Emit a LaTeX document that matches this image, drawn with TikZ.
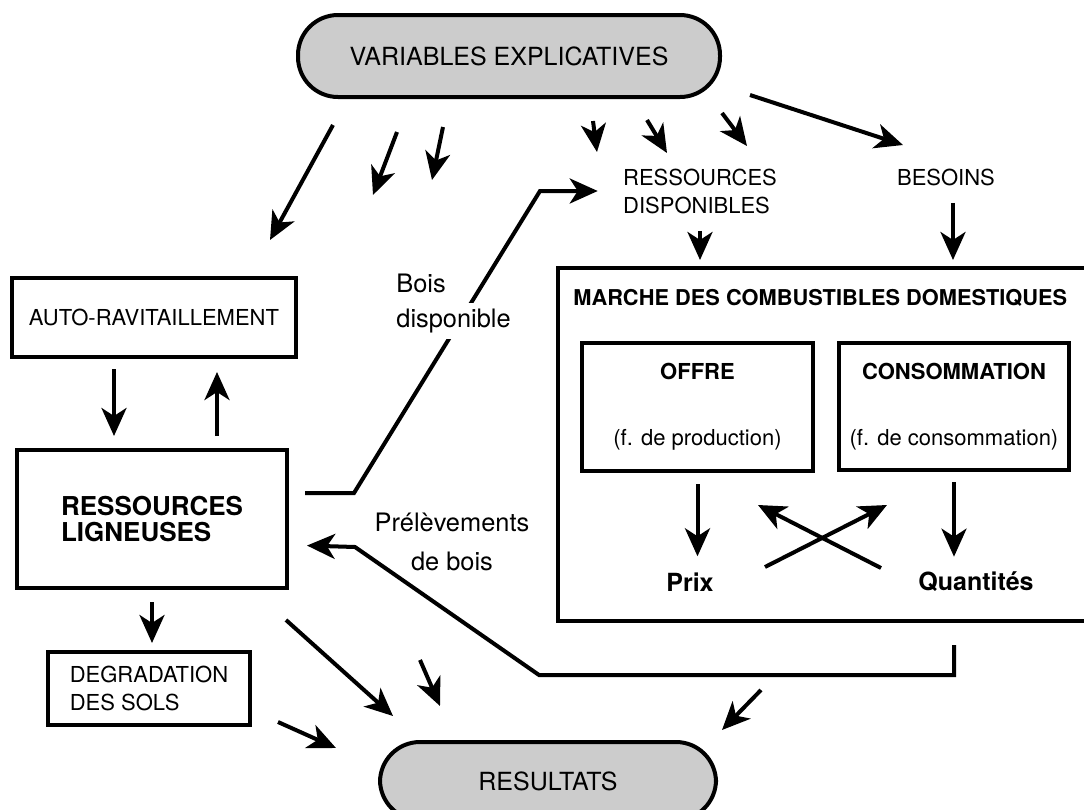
\documentclass[tikz,border=0pt]{standalone}
\usepackage{fontspec}
\setsansfont{TeX Gyre Heros}
\usepackage{tikz}
\usetikzlibrary{arrows.meta}
\usetikzlibrary{positioning}
\tikzset{%
  >={Stealth[length=14pt,width=12.5pt,inset=4pt]},
  % Specifications for style of nodes:
        base/.style = {rectangle, draw=black, line width=2pt,
                       inner sep=0pt, text centered,
                       font=\sffamily\fontsize{11}{14}\selectfont},
     capsule/.style = {base, rounded corners=20pt, fill=black!20,
                       font=\sffamily\fontsize{12.5}{15}\selectfont},
    boxtitle/.style = {inner sep=0pt,
                       font=\sffamily\bfseries\fontsize{10.9}{13}\selectfont},
    sizetext/.style = {inner sep=2pt,
                       font=\sffamily\fontsize{11}{14}\selectfont},
    boldtext/.style = {inner sep=2pt,
                       font=\sffamily\bfseries\fontsize{12.5}{15}\selectfont},
      remark/.style = {inner sep=3pt,
                       font=\sffamily\fontsize{12.7}{19.5}\selectfont},
        link/.style = {->, line width=2pt},
}
\begin{document}
\begin{tikzpicture}[x=0.5pt, y=-0.5pt]
  \clip (0,0) rectangle (1084,810);
  % Specification of nodes (position, etc.)
  \node (var)   [capsule, minimum width=211pt, minimum height=41pt]
        at (509,56) {VARIABLES EXPLICATIVES};
  \node (auto)  [base, minimum width=142pt, minimum height=39.5pt]
        at (154,317.5) {AUTO-RAVITAILLEMENT};
  \node (ligneuses) [base, minimum width=135pt, minimum height=69pt, align=left,
        font=\sffamily\bfseries\fontsize{13}{13}\selectfont]
        at (152,519) {RESSOURCES\\LIGNEUSES};
  \node (deg)   [base, minimum width=101pt, minimum height=36.5pt, align=left]
        at (149,688.5) {DEGRADATION\\DES SOLS};
  \node (dispo) [sizetext, align=left] at (700,191) {RESSOURCES\\DISPONIBLES};
  \node (besoins) [sizetext] at (946,177) {BESOINS};
  \node (marche) [base, minimum width=271pt, minimum height=176.5pt]
        at (829,444.5) {};
  \node (title) [boxtitle, anchor=west] at (573,298)
        {MARCHE DES COMBUSTIBLES DOMESTIQUES};
  \node (offre) [base, minimum width=115.5pt, minimum height=64pt, align=center]
        at (697.5,407) {\textbf{OFFRE}\\[19pt](f. de production)};
  \node (cons)  [base, minimum width=115pt, minimum height=63.5pt, align=center]
        at (954,406.5) {\textbf{CONSOMMATION}\\[19pt](f. de consommation)};
  \node (prix)  [boldtext] at (690,582) {Prix};
  \node (quant) [boldtext] at (976,582) {Quantités};
  \node (res)   [capsule, minimum width=168pt, minimum height=39pt]
        at (548,781) {RESULTATS};
  % free ends of the short arrows
  \coordinate (v1s) at (333,125);  \coordinate (v1e) at (270,240);
  \coordinate (v2s) at (397,132);  \coordinate (v2e) at (373,195);
  \coordinate (v3s) at (443,127);  \coordinate (v3e) at (432,180);
  \coordinate (v4s) at (593,121);  \coordinate (v4e) at (597,152);
  \coordinate (v5s) at (647,120);  \coordinate (v5e) at (667,153);
  \coordinate (v6s) at (722,113);  \coordinate (v6e) at (747,146);
  \coordinate (v7s) at (750,95);   \coordinate (v7e) at (903,145);
  \coordinate (r1s) at (286,620);  \coordinate (r1e) at (393,716);
  \coordinate (r2s) at (420,660);  \coordinate (r2e) at (440,706);
  \coordinate (r3s) at (278,722);  \coordinate (r3e) at (336,748);
  \coordinate (r4s) at (761,690);  \coordinate (r4e) at (722,730);
  \coordinate (x1s) at (765,567);  \coordinate (x1e) at (887,505);
  \coordinate (x2s) at (881,568);  \coordinate (x2e) at (758,505);
  \coordinate (b1) at (354,493);   \coordinate (b2) at (540,191);
  % Specification of lines between nodes specified above
  \draw[link] (v1s) -- (v1e);
  \draw[link] (v2s) -- (v2e);
  \draw[link] (v3s) -- (v3e);
  \draw[link] (v4s) -- (v4e);
  \draw[link] (v5s) -- (v5e);
  \draw[link] (v6s) -- (v6e);
  \draw[link] (v7s) -- (v7e);
  \draw[link, shorten <=6.5pt, shorten >=3pt]
        (dispo.south) -- (dispo.south |- marche.north);
  \draw[link, shorten <=6.5pt, shorten >=3pt]
        ([xshift=3.5pt]besoins.south) -- ([xshift=3.5pt]besoins.south |- marche.north);
  \draw[link, shorten <=5pt, shorten >=6pt]
        ([xshift=-20pt]auto.south) -- ([xshift=-20pt]auto.south |- ligneuses.north);
  \draw[link, shorten <=6pt, shorten >=6.5pt]
        ([xshift=31.5pt]auto.south |- ligneuses.north) -- ([xshift=31.5pt]auto.south);
  \draw[link, shorten <=6pt, shorten >=3.5pt]
        (ligneuses.south) -- (ligneuses.south |- deg.north);
  \draw[link, shorten <=5.5pt, shorten >=6pt]
        (offre.south) -- (offre.south |- prix.north);
  \draw[link, shorten <=5pt, shorten >=5.5pt]
        (cons.south) -- (cons.south |- quant.north);
  \draw[link] (x1s) -- (x1e);
  \draw[link] (x2s) -- (x2e);
  \draw[link, shorten <=8pt, shorten >=10.5pt]
        ([yshift=13pt]ligneuses.east) -- (b1) -- (b2) -- (dispo.west);
  \draw[link, shorten <=11pt, shorten >=9pt]
        (cons |- marche.south) -- ++(0,52) -- ++(-415,0) -- ++(-184,-128)
        -- ([yshift=-13pt]ligneuses.east);
  \draw[link] (r1s) -- (r1e);
  \draw[link] (r2s) -- (r2e);
  \draw[link] (r3s) -- (r3e);
  \draw[link] (r4s) -- (r4e);
  % additional nodes for description
  \node (bois)   [remark, anchor=west] at (390,283) {Bois};
  \node (dispon) [remark, anchor=west, fill=white] at (390,321) {disponible};
  \node (prel)   [remark, align=center] at (452,542) {Prélèvements\\de bois};
\end{tikzpicture}
\end{document}
